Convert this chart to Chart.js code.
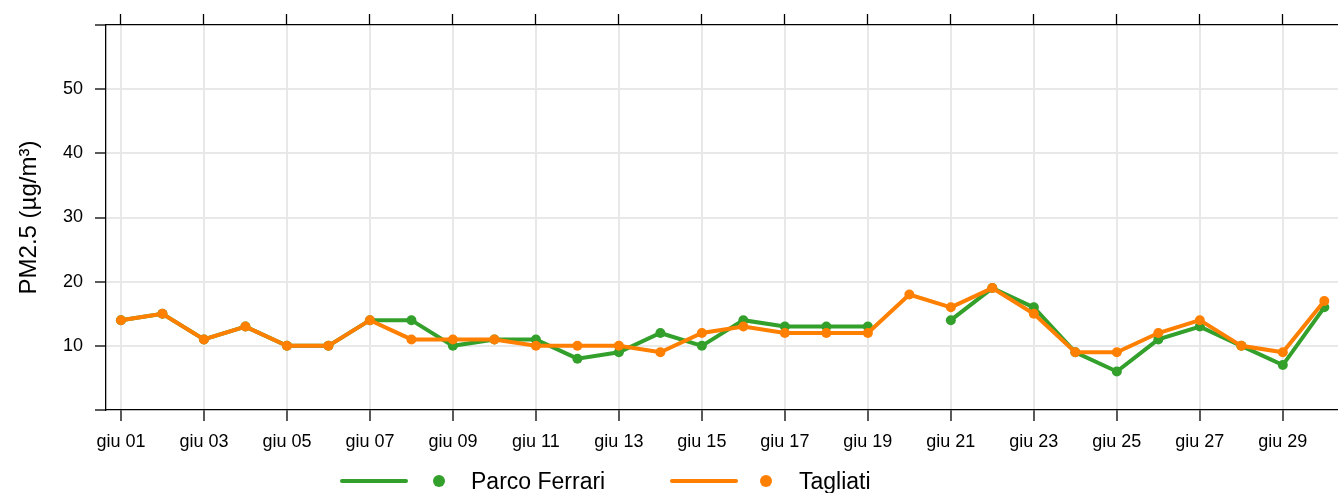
<!DOCTYPE html>
<html>
<head>
<meta charset="utf-8">
<script src="https://cdn.jsdelivr.net/npm/chart.js@4.4.1/dist/chart.umd.min.js"></script>
<style>
  html, body { margin: 0; padding: 0; background: #fff; }
  #wrap { position: relative; width: 1338px; height: 493px; overflow: hidden; }
  #c { position: absolute; left: 0; top: 0; }
  .leg { position: absolute; font-family: "Liberation Sans", Arial, sans-serif; font-size: 23px; color: #000; line-height: 1; }
  .lline { position: absolute; height: 4px; border-radius: 2px; }
  .ldot { position: absolute; width: 12px; height: 12px; border-radius: 6px; }
</style>
</head>
<body>
<div id="wrap">
  <canvas id="c" width="1338" height="493"></canvas>
  <div class="lline" style="left:340px; top:479px; width:68px; background:#33a02c;"></div>
  <div class="ldot" style="left:433px; top:475px; background:#33a02c;"></div>
  <div class="leg" style="left:471px; top:470px;">Parco Ferrari</div>
  <div class="lline" style="left:670px; top:479px; width:68px; background:#ff7f00;"></div>
  <div class="ldot" style="left:760px; top:475px; background:#ff7f00;"></div>
  <div class="leg" style="left:799px; top:470px;">Tagliati</div>
</div>
<script>
const days = [0,1,2,3,4,5,6,7,8,9,10,11,12,13,14,15,16,17,18,19,20,21,22,23,24,25,26,27,28,29];
const xTickValues = [0,2,4,6,8,10,12,14,16,18,20,22,24,26,28];
const xTickLabels = ["giu 01","giu 03","giu 05","giu 07","giu 09","giu 11","giu 13","giu 15","giu 17","giu 19","giu 21","giu 23","giu 25","giu 27","giu 29"];
const yTickValues = [0,10,20,30,40,50,60];
const yTickLabels = ["","10","20","30","40","50",""];
const parcoFerrari = [14,15,11,13,10,10,14,14,10,11,11,8,9,12,10,14,13,13,13,null,14,19,16,9,6,11,13,10,7,16];
const tagliati = [14,15,11,13,10,10,14,11,11,11,10,10,10,9,12,13,12,12,12,18,16,19,15,9,9,12,14,10,9,17];

const GREEN = '#33a02c', ORANGE = '#ff7f00';
const FONT = '"Liberation Sans", Arial, sans-serif';
const XMIN = -0.36, XMAX = 29.33;

function toXY(arr) { return days.map((d, i) => ({ x: d, y: arr[i] })); }

function ds(label, arr, color, order) {
  return {
    label, data: toXY(arr), borderColor: color, backgroundColor: color, order,
    borderWidth: 4, pointRadius: 5, pointHoverRadius: 5, pointBorderWidth: 0,
    pointBackgroundColor: color, tension: 0, spanGaps: false, xAxisID: 'x', yAxisID: 'y'
  };
}

function noPad(s) { s.paddingLeft = 0; s.paddingRight = 0; }

new Chart(document.getElementById('c'), {
  type: 'line',
  data: { datasets: [ds('Parco Ferrari', parcoFerrari, GREEN, 2), ds('Tagliati', tagliati, ORANGE, 1)] },
  options: {
    responsive: false, animation: false, devicePixelRatio: 1,
    layout: { padding: 0, autoPadding: false },
    plugins: { legend: { display: false }, tooltip: { enabled: false } },
    scales: {
      x: {
        type: 'linear', position: 'bottom', min: XMIN, max: XMAX,
        afterBuildTicks: s => { s.ticks = xTickValues.map(v => ({ value: v })); },
        afterFit: s => { s.height = 83; noPad(s); },
        ticks: {
          font: { family: FONT, size: 18 }, color: '#000', padding: 10, maxRotation: 0, autoSkip: false,
          callback: (v) => { const i = xTickValues.indexOf(v); return i >= 0 ? xTickLabels[i] : ''; }
        },
        grid: { color: '#e8e8e8', lineWidth: 2, tickColor: '#000', tickWidth: 1.3, tickLength: 11, drawTicks: true },
        border: { display: true, color: '#000', width: 1.3 }
      },
      x2: {
        type: 'linear', position: 'top', min: XMIN, max: XMAX,
        afterBuildTicks: s => { s.ticks = xTickValues.map(v => ({ value: v })); },
        afterFit: s => { s.height = 25; noPad(s); },
        ticks: { display: false },
        grid: { drawOnChartArea: false, tickColor: '#000', tickWidth: 1.3, tickLength: 11, drawTicks: true },
        border: { display: true, color: '#000', width: 1.3 }
      },
      y: {
        type: 'linear', position: 'left', min: 0, max: 60,
        afterBuildTicks: s => { s.ticks = yTickValues.map(v => ({ value: v })); },
        afterFit: s => { s.width = 106; },
        ticks: {
          font: { family: FONT, size: 18 }, color: '#000', padding: 12,
          callback: (v) => { const i = yTickValues.indexOf(v); return i >= 0 ? yTickLabels[i] : ''; }
        },
        grid: {
          color: ctx => (ctx.tick && (ctx.tick.value === 0 || ctx.tick.value === 60)) ? 'rgba(0,0,0,0)' : '#e8e8e8',
          lineWidth: 2, tickColor: '#000', tickWidth: 1.3, tickLength: 11, drawTicks: true
        },
        border: { display: true, color: '#000', width: 1.3 },
        title: { display: true, text: 'PM2.5 (µg/m³)', font: { family: FONT, size: 24 }, color: '#000', padding: { top: 15, bottom: 0 } }
      }
    }
  }
});
</script>
</body>
</html>
